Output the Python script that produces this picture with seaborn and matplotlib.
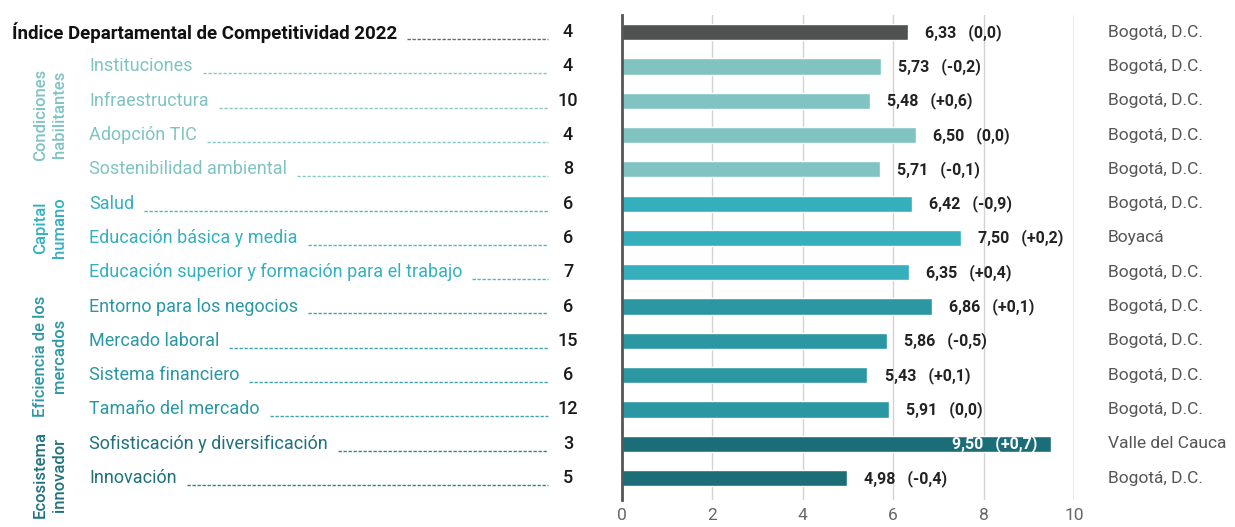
import matplotlib
matplotlib.use("Agg")
import matplotlib.pyplot as plt
import matplotlib.transforms as mtransforms
from matplotlib.lines import Line2D
import seaborn as sns
import pandas as pd

# --- data -------------------------------------------------------------
categories = [
    "Índice Departamental de Competitividad 2022",
    "Instituciones",
    "Infraestructura",
    "Adopción TIC",
    "Sostenibilidad ambiental",
    "Salud",
    "Educación básica y media",
    "Educación superior y formación para el trabajo",
    "Entorno para los negocios",
    "Mercado laboral",
    "Sistema financiero",
    "Tamaño del mercado",
    "Sofisticación y diversificación",
    "Innovación",
]
groups = [
    "Índice",
    "Condiciones habilitantes", "Condiciones habilitantes",
    "Condiciones habilitantes", "Condiciones habilitantes",
    "Capital humano", "Capital humano", "Capital humano",
    "Eficiencia de los mercados", "Eficiencia de los mercados",
    "Eficiencia de los mercados", "Eficiencia de los mercados",
    "Ecosistema innovador", "Ecosistema innovador",
]
scores = [6.33, 5.73, 5.48, 6.50, 5.71, 6.42, 7.50, 6.35, 6.86, 5.86, 5.43, 5.91, 9.50, 4.98]
changes = ["0,0", "-0,2", "+0,6", "0,0", "-0,1", "-0,9", "+0,2", "+0,4",
           "+0,1", "-0,5", "+0,1", "0,0", "+0,7", "-0,4"]
ranks = [4, 4, 10, 4, 8, 6, 6, 7, 6, 15, 6, 12, 3, 5]
leaders = ["Bogotá, D.C.", "Bogotá, D.C.", "Bogotá, D.C.", "Bogotá, D.C.",
           "Bogotá, D.C.", "Bogotá, D.C.", "Boyacá", "Bogotá, D.C.",
           "Bogotá, D.C.", "Bogotá, D.C.", "Bogotá, D.C.", "Bogotá, D.C.",
           "Valle del Cauca", "Bogotá, D.C."]
x_ticks = [0, 2, 4, 6, 8, 10]

group_names = ["Condiciones habilitantes", "Capital humano",
               "Eficiencia de los mercados", "Ecosistema innovador"]
group_titles = ["Condiciones\nhabilitantes", "Capital\nhumano",
                "Eficiencia de los\nmercados", "Ecosistema\ninnovador"]

# --- style ------------------------------------------------------------
bar_colors = {
    "Índice": "#4e5352",
    "Condiciones habilitantes": "#80c3c1",
    "Capital humano": "#36afbc",
    "Eficiencia de los mercados": "#2b97a2",
    "Ecosistema innovador": "#1b6e78",
}
text_colors = {
    "Índice": "#111111",
    "Condiciones habilitantes": "#7fc4c3",
    "Capital humano": "#35b0bf",
    "Eficiencia de los mercados": "#2a98a4",
    "Ecosistema innovador": "#1f727c",
}

sns.set_theme(style="white")
plt.rcParams["font.family"] = ["Roboto", "DejaVu Sans"]

df = pd.DataFrame({"categoria": categories, "grupo": groups, "valor": scores})

W, H = 1235, 527
fig = plt.figure(figsize=(W / 100, H / 100), dpi=100)
ax = fig.add_axes([622 / W, 1 - 500 / H, (1074 - 622) / W, (500 - 15) / H])

for xv in x_ticks[1:-1]:
    ax.axvline(xv, color="#d2d2d2", lw=1, zorder=0)
ax.axvline(10, color="#9a9a9a", lw=1, zorder=0)

sns.barplot(data=df, y="categoria", x="valor", hue="grupo", palette=bar_colors,
            orient="h", dodge=False, width=0.47, legend=False, ax=ax,
            saturation=1, zorder=2)

ax.set_xlim(0, 10)
ax.set_ylim(13.64, -0.5)
ax.set_xticks(x_ticks)
ax.set_xticklabels([str(t) for t in x_ticks])
ax.tick_params(axis="x", length=0, pad=6, labelsize=12.5, labelcolor="#666666")
ax.set_yticks([])
ax.set_ylabel("")
ax.set_xlabel("")
for side in ["top", "right", "bottom"]:
    ax.spines[side].set_visible(False)
ax.spines["left"].set_color("#555555")
ax.spines["left"].set_linewidth(2)
ax.spines["left"].set_zorder(3)

# value labels with year-on-year change
for i, (v, c) in enumerate(zip(scores, changes)):
    label = f"{v:.2f}".replace(".", ",") + f"   ({c})"
    if v > 9:
        ax.text(v - 0.3, i, label, ha="right", va="center", color="white",
                fontsize=11.5, fontweight="bold", zorder=4)
    else:
        ax.text(v + 0.38, i, label, ha="left", va="center", color="#222222",
                fontsize=11.5, fontweight="bold", zorder=4)

# left-hand labels and ranks, right-hand leading department
trans = mtransforms.blended_transform_factory(fig.transFigure, ax.transData)
label_texts = []
for i, (cat, grp, rk, ld) in enumerate(zip(categories, groups, ranks, leaders)):
    if i == 0:
        t = fig.text(12 / W, i, cat, transform=trans, ha="left", va="center",
                     fontsize=13.5, fontweight="bold", color=text_colors[grp])
    else:
        t = fig.text(89 / W, i, cat, transform=trans, ha="left", va="center",
                     fontsize=13, color=text_colors[grp])
    label_texts.append((t, grp, i))
    fig.text(568 / W, i, str(rk), transform=trans, ha="center", va="center",
             fontsize=13, color="#1a1a1a", fontweight="medium")
    fig.text(1108 / W, i, ld, transform=trans, ha="left", va="center",
             fontsize=12.5, color="#555555")

# dashed leaders from each label to its rank
fig.canvas.draw()
renderer = fig.canvas.get_renderer()
for t, grp, i in label_texts:
    bb = t.get_window_extent(renderer)
    x0 = (bb.x1 + 10) / W
    x1 = 548 / W
    col = "#555555" if grp == "Índice" else text_colors[grp]
    line = Line2D([x0, x1], [i + 0.2, i + 0.2], transform=trans, color=col,
                  lw=1.0, ls=(0, (2.4, 1.2)), alpha=0.9)
    fig.add_artist(line)

# rotated group titles
title_rows = [2.4, 5.7, 9.45, 12.9]
for name, title, yc in zip(group_names, group_titles, title_rows):
    fig.text(50 / W, yc, title, transform=trans, rotation=90, ha="center",
             va="center", multialignment="center", fontsize=12,
             color=text_colors[name], linespacing=1.3, fontweight="medium")

fig.savefig("out.png", dpi=100)
